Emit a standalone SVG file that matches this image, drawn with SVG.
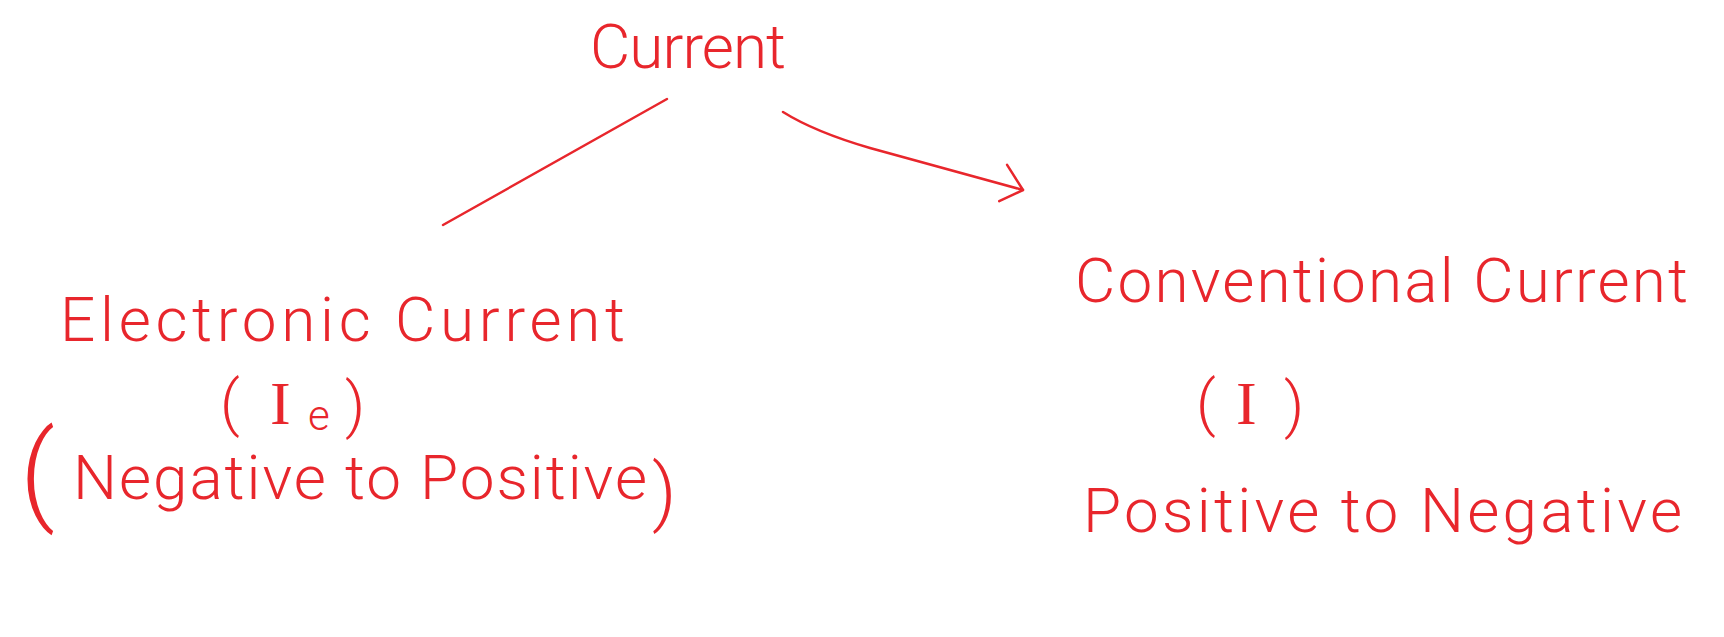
<svg xmlns="http://www.w3.org/2000/svg" width="1724" height="637" viewBox="0 0 1724 637">
<style>
.t{font-family:"Roboto","Liberation Sans",sans-serif;font-weight:300;fill:#e8262c;font-size:62px}
.p{font-family:"Roboto","Liberation Sans",sans-serif;font-weight:300;fill:#e8262c}
.s{font-family:"Liberation Serif","DejaVu Serif",serif;font-weight:400}
.c{fill:none;stroke:#e8262c;stroke-width:2.5;stroke-linecap:round;stroke-linejoin:round}
</style>
<defs>
<marker id="arr" markerUnits="userSpaceOnUse" viewBox="-30 -30 40 60" refX="0" refY="0" markerWidth="40" markerHeight="60" orient="auto">
<path d="M-22,-20 L0,0 L-20,17" fill="none" stroke="#e8262c" stroke-width="2.5" stroke-linecap="round" stroke-linejoin="round"/>
</marker>
</defs>
<rect width="1724" height="637" fill="#ffffff"/>
<g id="connectors">
<path class="c" d="M667,99 L443,225"/>
<path class="c" d="M783,112 Q815,132 870,148 L1023,190" marker-end="url(#arr)"/>
</g>
<g id="node-current">
<text class="t" x="590" y="68" textLength="196" lengthAdjust="spacing">Current</text>
</g>
<g id="node-electronic">
<text class="t" x="60" y="341" textLength="565" lengthAdjust="spacing">Electronic Current</text>
<text class="t"><tspan x="220" y="424">(</tspan><tspan class="s" x="270" y="424">I</tspan><tspan x="308" y="430" font-size="42">e</tspan><tspan x="345" y="426">)</tspan></text>
<text class="p" x="20" y="510" font-size="109">(</text>
<text class="t" x="73" y="499" textLength="574" lengthAdjust="spacing">Negative to Positive</text>
<text class="p" x="652" y="517" font-size="75">)</text>
</g>
<g id="node-conventional">
<text class="t" x="1075" y="302" textLength="613" lengthAdjust="spacing">Conventional Current</text>
<text class="t"><tspan x="1196" y="424">(</tspan><tspan class="s" x="1236" y="424">I</tspan><tspan x="1284" y="426">)</tspan></text>
<text class="t" x="1083" y="532" textLength="599" lengthAdjust="spacing">Positive to Negative</text>
</g>
</svg>
